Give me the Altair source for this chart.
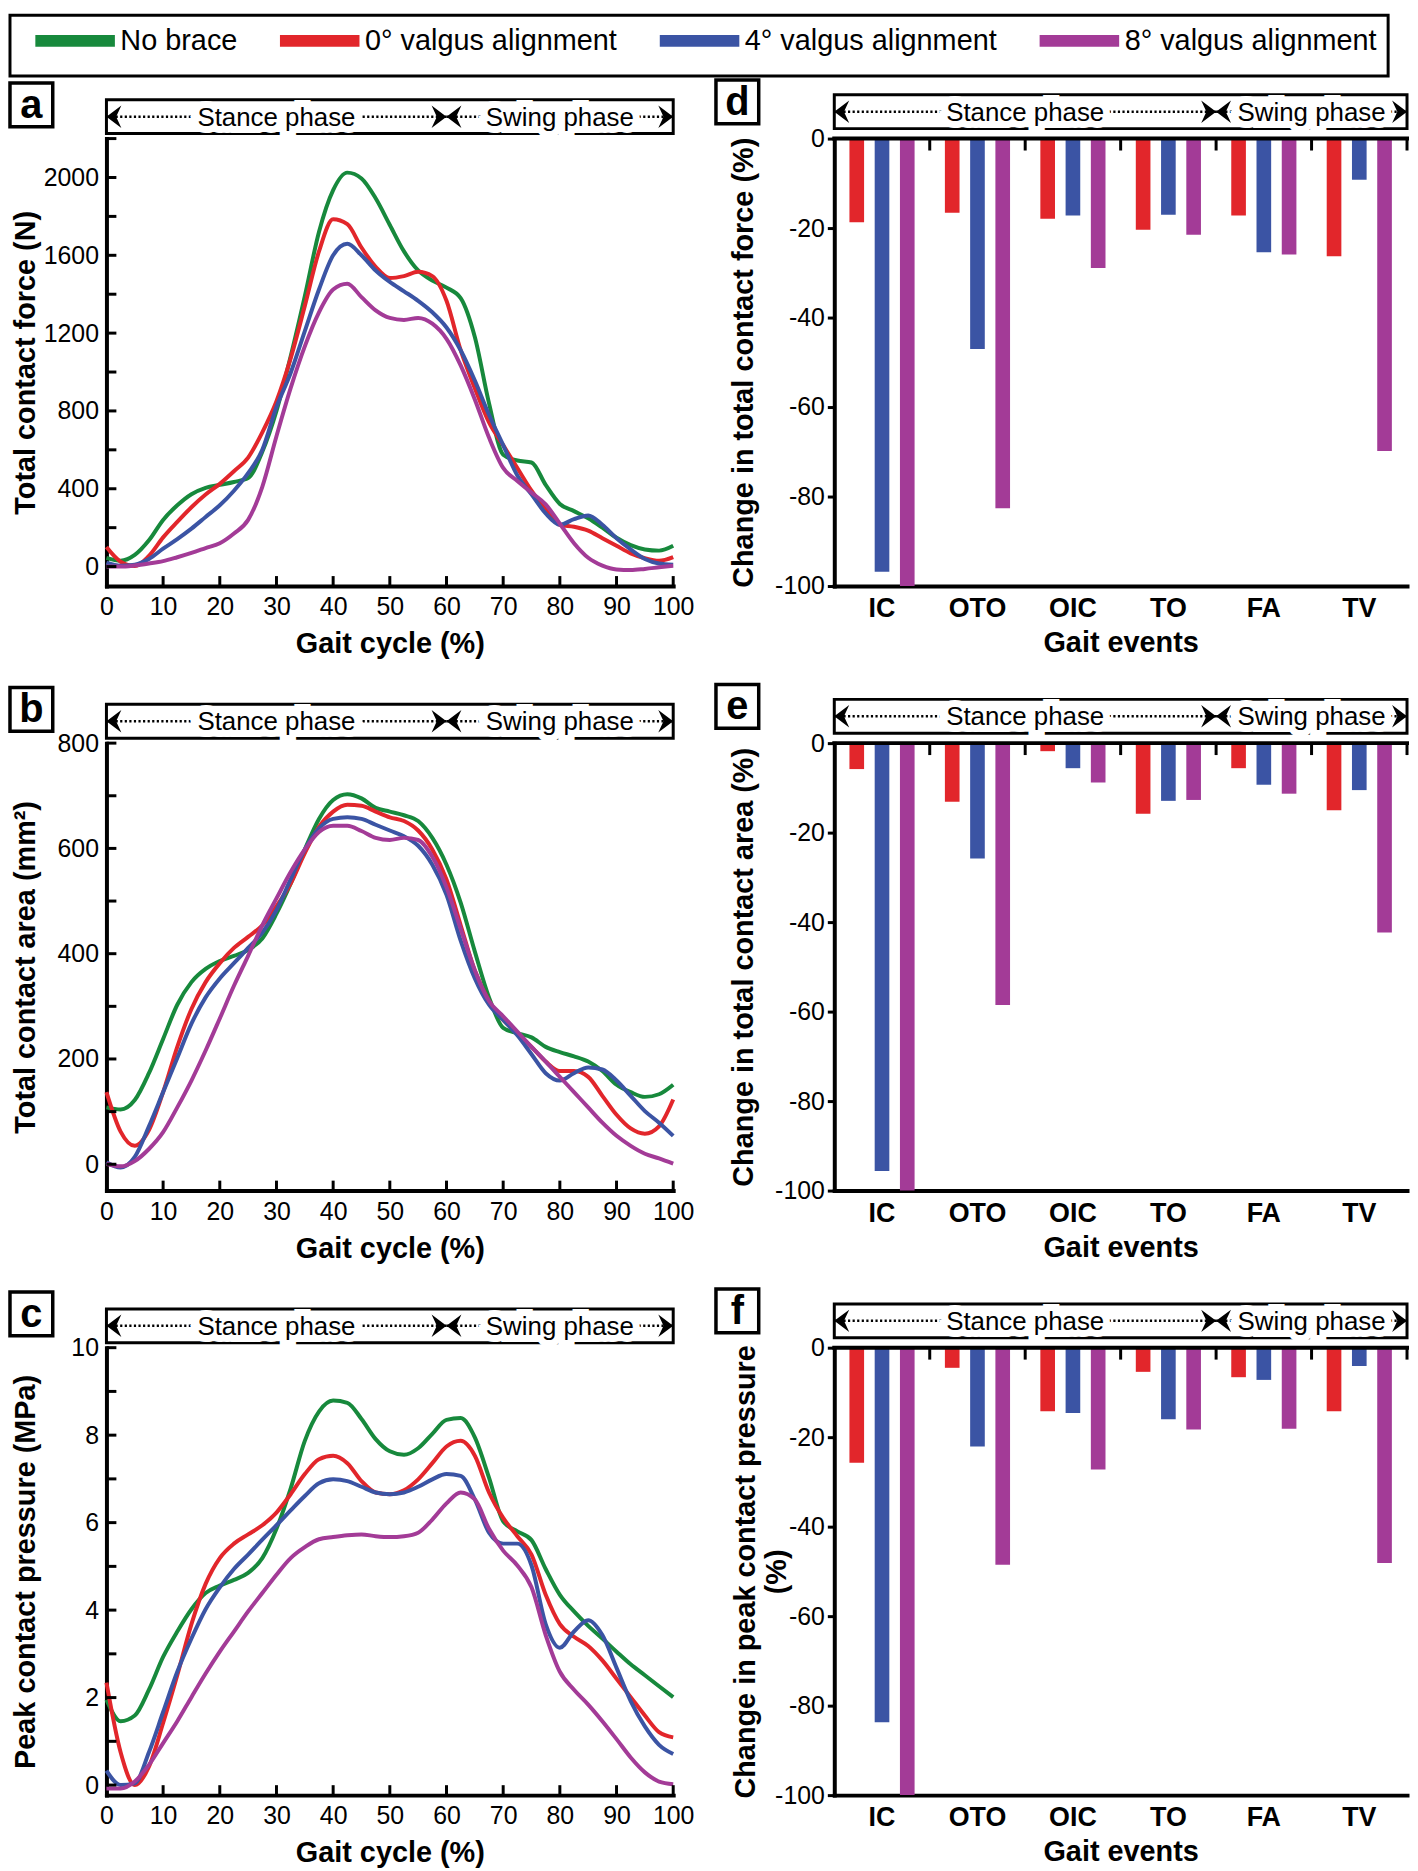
import altair as alt
import pandas as pd

FONT = "Liberation Sans"

# ---------------- data ----------------
SERIES = ["No brace", "0° valgus alignment", "4° valgus alignment", "8° valgus alignment"]
COLORS = ["#17893c", "#e2262b", "#3b54a4", "#a33b97"]

GAIT = [0, 2.5, 5, 7.5, 10, 12.5, 15, 17.5, 20, 22.5, 25, 27.5, 30, 32.5, 35, 37.5, 40,
        42.5, 45, 47.5, 50, 52.5, 55, 57.5, 60, 62.5, 65, 67.5, 70, 72.5, 75, 77.5, 80,
        82.5, 85, 87.5, 90, 92.5, 95, 97.5, 100]
GAIT_LABELS = [0, 10, 20, 30, 40, 50, 60, 70, 80, 90, 100]
GAIT_TICKS = [10, 20, 30, 40, 50, 60, 70, 80, 90, 100]
GAIT_PHASE_BOUNDS = [0, 60, 100]
PHASES = ["Stance phase", "Swing phase"]

# (a) total contact force (N)
A_NO = [45, 30, 60, 135, 240, 315, 372, 405, 420, 435, 455, 590, 800, 1080, 1390, 1720, 1935,
        2025, 1995, 1893, 1756, 1620, 1522, 1470, 1434, 1380, 1180, 840, 575, 545, 535, 420,
        322, 285, 248, 200, 148, 110, 88, 82, 107]
A_0 = [100, 25, 3, 55, 150, 230, 305, 370, 425, 490, 560, 690, 850, 1070, 1340, 1620, 1785,
       1760, 1640, 1541, 1483, 1493, 1515, 1493, 1366, 1112, 917, 741, 624, 507, 390, 293,
       215, 205, 185, 146, 107, 68, 43, 30, 49]
A_4 = [20, 4, 10, 39, 92, 141, 195, 255, 315, 390, 480, 600, 820, 995, 1210, 1424, 1600,
       1659, 1600, 1522, 1463, 1415, 1366, 1307, 1229, 1112, 956, 780, 624, 468, 371, 273,
       215, 244, 263, 215, 146, 88, 39, 16, 10]
A_8 = [0, 0, 6, 16, 28, 48, 70, 95, 120, 170, 240, 410, 670, 917, 1132, 1307, 1424, 1454,
       1385, 1317, 1278, 1268, 1278, 1249, 1171, 1034, 859, 663, 507, 440, 380, 320, 220,
       120, 45, 5, -15, -18, -12, -4, 4]
A_YLABELS = [0, 400, 800, 1200, 1600, 2000]
A_YTICKS = [0, 200, 400, 600, 800, 1000, 1200, 1400, 1600, 1800, 2000, 2200]

# (b) total contact area (mm2)
B_NO = [108, 104, 122, 173, 238, 303, 346, 371, 386, 396, 407, 429, 476, 533, 598, 656, 692,
        703, 695, 677, 670, 663, 652, 620, 569, 497, 404, 317, 259, 249, 241, 223, 213, 205,
        195, 177, 151, 137, 128, 133, 151]
B_0 = [137, 62, 35, 65, 137, 223, 295, 346, 382, 411, 432, 454, 490, 533, 591, 641, 670, 683,
       681, 670, 659, 652, 634, 598, 541, 454, 368, 310, 274, 249, 223, 195, 177, 177, 166,
       130, 94, 68, 58, 72, 123]
B_4 = [4, -6, 14, 72, 137, 202, 267, 317, 353, 382, 411, 440, 483, 541, 598, 638, 656, 659,
       656, 645, 634, 623, 605, 569, 512, 425, 353, 303, 274, 245, 209, 173, 159, 173, 184,
       180, 159, 130, 101, 79, 54]
B_8 = [1, -4, 6, 29, 61, 108, 159, 216, 277, 339, 396, 454, 505, 555, 598, 631, 643, 643, 633,
       620, 616, 620, 616, 584, 526, 447, 368, 310, 281, 252, 223, 195, 166, 137, 108, 79, 54,
       35, 20, 11, 1]
B_YLABELS = [0, 200, 400, 600, 800]
B_YTICKS = [0, 100, 200, 300, 400, 500, 600, 700, 800]

# (c) peak contact pressure (MPa)
C_NO = [1.95, 1.46, 1.59, 2.18, 2.93, 3.51, 4.02, 4.39, 4.56, 4.69, 4.85, 5.19, 5.86, 6.78,
        7.87, 8.54, 8.79, 8.74, 8.37, 7.91, 7.63, 7.55, 7.70, 8.03, 8.35, 8.39, 7.95, 7.03,
        6.03, 5.80, 5.60, 4.94, 4.35, 3.97, 3.64, 3.35, 3.05, 2.76, 2.51, 2.26, 2.01]
C_0 = [2.34, 0.75, 0.0, 0.42, 1.42, 2.51, 3.68, 4.60, 5.19, 5.52, 5.73, 5.94, 6.23, 6.65,
       7.11, 7.45, 7.53, 7.36, 6.95, 6.69, 6.65, 6.74, 6.99, 7.36, 7.74, 7.87, 7.53, 6.69,
       6.11, 5.69, 5.27, 4.35, 3.68, 3.39, 3.18, 2.85, 2.43, 2.01, 1.59, 1.21, 1.09]
C_4 = [0.33, 0.0, 0.04, 0.75, 1.67, 2.59, 3.35, 4.02, 4.52, 4.94, 5.27, 5.61, 5.94, 6.28,
       6.61, 6.90, 6.99, 6.95, 6.82, 6.69, 6.65, 6.69, 6.82, 6.99, 7.11, 7.07, 6.53, 5.77,
       5.52, 5.52, 5.02, 3.68, 3.14, 3.51, 3.77, 3.43, 2.68, 1.92, 1.34, 0.92, 0.71]
C_8 = [-0.08, -0.08, 0.08, 0.46, 0.96, 1.46, 2.01, 2.55, 3.05, 3.51, 3.97, 4.39, 4.81, 5.19,
       5.44, 5.62, 5.67, 5.71, 5.73, 5.69, 5.67, 5.69, 5.77, 6.07, 6.44, 6.69, 6.53, 5.86,
       5.36, 5.02, 4.52, 3.43, 2.59, 2.18, 1.84, 1.46, 1.05, 0.63, 0.29, 0.08, 0.02]
C_YLABELS = [0, 2, 4, 6, 8, 10]
C_YTICKS = [0, 1, 2, 3, 4, 5, 6, 7, 8, 9, 10]

# (d-f) percentage change per gait event
EVENTS = ["IC", "OTO", "OIC", "TO", "FA", "TV"]
STANCE_EVENTS = ["IC", "OTO", "OIC", "TO"]
SWING_EVENTS = ["FA", "TV"]
D_0 = [-18.7, -16.6, -17.9, -20.4, -17.2, -26.3]
D_4 = [-96.8, -47.0, -17.2, -17.0, -25.4, -9.2]
D_8 = [-100, -82.6, -28.9, -21.5, -25.9, -69.8]
E_0 = [-5.8, -13.1, -1.8, -15.8, -5.6, -15.0]
E_4 = [-95.6, -25.8, -5.6, -12.9, -9.3, -10.5]
E_8 = [-100, -58.5, -8.8, -12.7, -11.3, -42.3]
F_0 = [-25.7, -4.5, -14.2, -5.4, -6.6, -14.2]
F_4 = [-83.7, -22.1, -14.6, -16.0, -7.2, -4.1]
F_8 = [-100, -48.5, -27.2, -18.3, -18.1, -48.1]
PCT_LABELS = [0, -20, -40, -60, -80, -100]

# ---------------- layout / style ----------------
LW, RW, H = 570, 576, 450
ARROW_LEFT = "M0,0L1,-0.75L0.65,0L1,0.75Z"
ARROW_RIGHT = "M0,0L-1,-0.75L-0.65,0L-1,0.75Z"
CSCALE = alt.Scale(domain=SERIES, range=COLORS)
LEG = alt.Legend(title=None)
ONE = pd.DataFrame({"k": [0]})
PLAIN = "'' + datum.value"


def make_header(ph, xscale, xaxis, width, top, bot):
    mid_y = (top + bot) / 2

    def X(f):
        return alt.X(f"{f}:Q", scale=xscale, axis=xaxis)

    box = alt.Chart(ONE).mark_rect(fill="white", stroke="black", strokeWidth=3).encode(
        x=alt.value(0), x2=alt.value(width), y=alt.value(top), y2=alt.value(bot))
    dots = alt.Chart(ph).mark_rule(color="black", strokeWidth=2.5, strokeDash=[2.2, 2.4]).encode(
        x=X("start"), x2="end:Q", y=alt.value(mid_y))
    halo = alt.Chart(ph).mark_text(font=FONT, fontSize=26, fill="white", stroke="white",
                                   strokeWidth=14, baseline="middle").encode(
        x=X("mid"), y=alt.value(mid_y + 1), text="phase:N")
    txt = alt.Chart(ph).mark_text(font=FONT, fontSize=26, color="black", baseline="middle").encode(
        x=X("mid"), y=alt.value(mid_y + 1), text="phase:N")
    la = alt.Chart(ph).mark_point(shape=ARROW_LEFT, filled=True, size=900, color="black",
                                  opacity=1, strokeWidth=0).encode(
        x=X("start"), y=alt.value(mid_y))
    ra = alt.Chart(ph).mark_point(shape=ARROW_RIGHT, filled=True, size=900, color="black",
                                  opacity=1, strokeWidth=0).encode(
        x=X("end"), y=alt.value(mid_y))
    return [box, dots, halo, txt, la, ra]


def make_letter(letter, x0, x1, y0, y1):
    box = alt.Chart(ONE).mark_rect(fill="white", stroke="black", strokeWidth=3.5).encode(
        x=alt.value(x0), x2=alt.value(x1), y=alt.value(y0), y2=alt.value(y1))
    txt = alt.Chart(ONE).mark_text(font=FONT, fontSize=40, fontWeight="bold", color="black",
                                   baseline="middle", align="center").encode(
        x=alt.value((x0 + x1) / 2), y=alt.value((y0 + y1) / 2 + 1), text=alt.value(letter))
    return [box, txt]


def line_panel(letter, arrays, ydom, ylabels, yticks, ytitle):
    rows = []
    for s, arr in zip(SERIES, arrays):
        for g, v in zip(GAIT, arr):
            rows.append({"gait": g, "value": v, "series": s})
    df = pd.DataFrame(rows)
    xs = alt.Scale(domain=[0, 100], nice=False, zero=False)
    ys = alt.Scale(domain=ydom, nice=False, zero=False)
    xax = alt.Axis(values=GAIT_LABELS, ticks=False, tickSize=0, labelPadding=9,
                   labelFlush=False, labelOverlap=False, title="Gait cycle (%)",
                   titleY=58, titleBaseline="middle", labelExpr=PLAIN)
    yax = alt.Axis(values=ylabels, ticks=False, tickSize=0, labelPadding=8,
                   labelOverlap=False, title=ytitle, titleX=-81, titleBaseline="middle",
                   labelExpr=PLAIN)
    lines = alt.Chart(df).mark_line(strokeWidth=4, interpolate="monotone").encode(
        x=alt.X("gait:Q", scale=xs, axis=xax),
        y=alt.Y("value:Q", scale=ys, axis=yax),
        color=alt.Color("series:N", scale=CSCALE, legend=LEG, sort=SERIES),
    )
    yt = alt.Chart(pd.DataFrame({"value": yticks})).mark_rule(color="black", strokeWidth=3).encode(
        y=alt.Y("value:Q", scale=ys, axis=yax), x=alt.value(0), x2=alt.value(10))
    xt = alt.Chart(pd.DataFrame({"gait": GAIT_TICKS})).mark_rule(color="black", strokeWidth=3).encode(
        x=alt.X("gait:Q", scale=xs, axis=xax), y=alt.value(H), y2=alt.value(H - 10))
    ph = pd.DataFrame({"phase": PHASES, "start": GAIT_PHASE_BOUNDS[:-1],
                       "end": GAIT_PHASE_BOUNDS[1:]})
    ph["mid"] = (ph["start"] + ph["end"]) / 2
    hdr = make_header(ph, xs, xax, LW, -39, -5)
    lab = make_letter(letter, -97, -54, -56, -12)
    return alt.layer(lines, yt, xt, *hdr, *lab).properties(width=LW, height=H)


def bar_panel(letter, arrays, ytitle, title_x):
    rows = []
    for s, arr in zip(SERIES[1:], arrays):
        for ev, v in zip(EVENTS, arr):
            rows.append({"event": ev, "value": v, "series": s})
    df = pd.DataFrame(rows)
    ys = alt.Scale(domain=[-100, 0], nice=False, zero=False)
    bars = alt.Chart(df).mark_bar().encode(
        x=alt.X("event:N", sort=EVENTS, scale=alt.Scale(paddingInner=0, paddingOuter=0),
                axis=alt.Axis(ticks=False, tickSize=0, labelAngle=0, labelFontSize=27,
                              labelFontWeight="bold", labelPadding=10, title="Gait events",
                              titleY=57, titleBaseline="middle")),
        xOffset=alt.XOffset("series:N", sort=SERIES[1:],
                            scale=alt.Scale(paddingInner=0.42, paddingOuter=0.6)),
        y=alt.Y("value:Q", scale=ys,
                axis=alt.Axis(values=PCT_LABELS, tickSize=7, labelPadding=3, title=ytitle,
                              titleX=title_x, titleBaseline="middle", titleLineHeight=31,
                              labelOverlap=False, labelExpr=PLAIN)),
        color=alt.Color("series:N", scale=CSCALE, legend=LEG, sort=SERIES),
    )
    es = alt.Scale(domain=[0, len(EVENTS)], nice=False, zero=False)
    top = alt.Chart(ONE).mark_rule(color="black", strokeWidth=4, strokeCap="square").encode(
        x=alt.value(0), x2=alt.value(RW), y=alt.value(0))
    ends = pd.DataFrame({"pos": [i + 1 for i in range(len(EVENTS))]})
    bt = alt.Chart(ends).mark_rule(color="black", strokeWidth=3).encode(
        x=alt.X("pos:Q", scale=es, axis=None), y=alt.value(0), y2=alt.value(12))
    n_st = len(STANCE_EVENTS)
    n_sw = len(SWING_EVENTS)
    ph = pd.DataFrame({"phase": PHASES, "start": [0, n_st], "end": [n_st, n_st + n_sw]})
    ph["mid"] = (ph["start"] + ph["end"]) / 2
    hdr = make_header(ph, es, None, RW, -44, -10)
    lab = make_letter(letter, -119, -76, -59, -15)
    overlay = alt.layer(top, bt, *hdr, *lab)
    return alt.layer(bars, overlay).resolve_scale(x="independent").properties(width=RW, height=H)


pa = line_panel("a", [A_NO, A_0, A_4, A_8], [-100, 2200], A_YLABELS, A_YTICKS,
                "Total contact force (N)")
pb = line_panel("b", [B_NO, B_0, B_4, B_8], [-50, 800], B_YLABELS, B_YTICKS,
                "Total contact area (mm²)")
pc = line_panel("c", [C_NO, C_0, C_4, C_8], [-0.23, 10], C_YLABELS, C_YTICKS,
                "Peak contact pressure (MPa)")
pd_ = bar_panel("d", [D_0, D_4, D_8], "Change in total contact force (%)", -91)
pe = bar_panel("e", [E_0, E_4, E_8], "Change in total contact area (%)", -91)
pf = bar_panel("f", [F_0, F_4, F_8], ["Change in peak contact pressure", "(%)"], -89)

chart = alt.concat(
    pa, pd_, pb, pe, pc, pf, columns=2,
    spacing={"row": 158, "column": 162}, bounds="flush",
).properties(
    padding=0
).configure_view(
    stroke=None
).configure_axis(
    domainColor="black", domainWidth=4, domainCap="square",
    labelColor="black", labelFont=FONT, labelFontSize=25,
    titleFont=FONT, titleFontSize=29, titleFontWeight="bold", titleColor="black",
    grid=False, tickColor="black", tickWidth=3,
).configure_legend(
    orient="none", legendX=-97, legendY=-124, direction="horizontal",
    symbolType="M0,0L16,0", symbolSize=100, symbolStrokeWidth=12,
    labelFont=FONT, labelFontSize=29, labelColor="black", labelLimit=400,
    labelOffset=71, columnPadding=18, padding=11,
    strokeColor="black", strokeWidth=3, fillColor="white",
)

chart.save("out.html", embed_options={"renderer": "svg", "actions": False})
